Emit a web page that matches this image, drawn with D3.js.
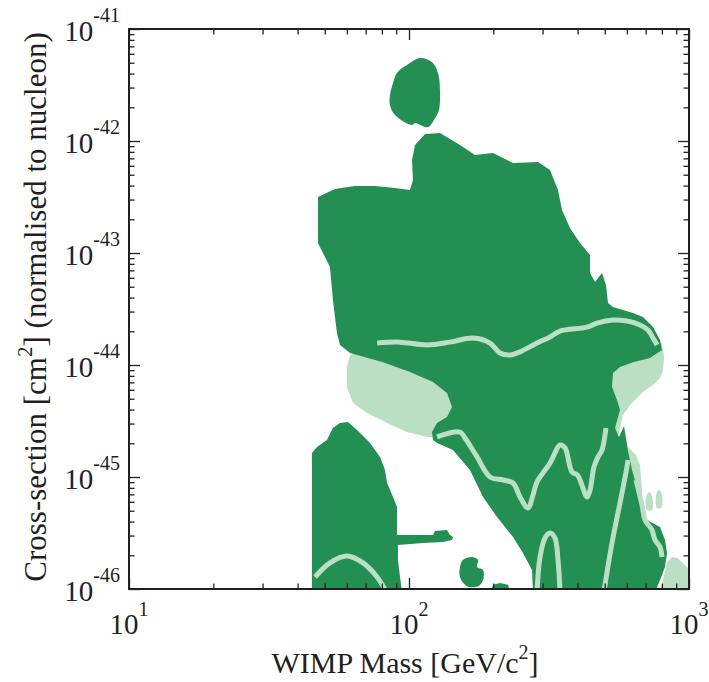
<!DOCTYPE html>
<html>
<head>
<meta charset="utf-8">
<script src="https://cdn.jsdelivr.net/npm/d3@7"></script>
<style>
  body { margin: 0; background: #fff; }
  text { font-family: "Liberation Serif", "Times New Roman", serif; fill: #231f20; }
</style>
</head>
<body>
<script>
// axis ticks
var massTicks = [10, 100, 1000];
var massExps = ["1", "2", "3"];
var sigmaTicks = [1e-46, 1e-45, 1e-44, 1e-43, 1e-42, 1e-41];
var sigmaExps = ["-46", "-45", "-44", "-43", "-42", "-41"];

// dark regions [mass GeV, sigma cm2]
var darkMain = [
  [47.3, 3.16e-43], [54.4, 3.72e-43], [64.1, 3.96e-43], [75.6, 3.96e-43], [89.1, 3.80e-43],
  [100.8, 3.65e-43], [103.3, 4.49e-43], [102.5, 6.76e-43], [105.1, 9.21e-43], [114.1, 1.155e-42],
  [129.0, 1.18e-42], [152.1, 9.21e-43], [172.1, 7.50e-43], [199.5, 7.81e-43], [235.2, 6.36e-43],
  [288.9, 6.49e-43], [318.9, 5.51e-43], [340.5, 3.65e-43], [351.9, 2.42e-43], [375.8, 1.67e-43],
  [408.1, 1.23e-43], [443.1, 9.60e-44], [443.1, 6.63e-44], [461.7, 5.51e-44], [489.0, 6.63e-44],
  [505.3, 5.18e-44], [513.7, 3.58e-44], [535.3, 3.30e-44], [631.0, 2.91e-44], [685.0, 2.68e-44],
  [743.9, 2.18e-44], [787.9, 1.67e-44], [801.1, 1.36e-44], [725.6, 1.155e-44], [631.0, 1.06e-44],
  [567.0, 9.60e-45], [535.3, 8.48e-45], [530.9, 6.36e-45], [553.3, 4.87e-45], [567.0, 3.96e-45],
  [544.2, 2.74e-45], [562.3, 2.28e-45], [586.0, 2.85e-45], [605.4, 1.74e-45], [625.6, 1.155e-45],
  [657.6, 7.65e-46], [685.0, 5.40e-46], [707.9, 4.13e-46], [787.9, 3.58e-46], [821.1, 2.74e-46],
  [834.7, 2.10e-46], [821.1, 1.57e-46], [787.9, 1.20e-46], [756.2, 0.95e-46], [277.3, 0.95e-46],
  [275.0, 1.48e-46], [255.3, 2.10e-46], [235.2, 2.91e-46], [206.2, 4.40e-46], [183.8, 6.63e-46],
  [165.1, 1.155e-45], [143.6, 1.74e-45], [125.9, 2.01e-45], [121.8, 2.14e-45], [120.8, 2.52e-45],
  [125.9, 3.03e-45], [136.7, 3.43e-45], [142.4, 4.22e-45], [136.7, 5.62e-45], [121.8, 7.05e-45],
  [100.8, 8.66e-45], [80.8, 1.06e-44], [61.6, 1.28e-44], [56.7, 1.51e-44], [55.3, 1.93e-44],
  [53.5, 3.80e-44], [52.2, 7.50e-44], [47.3, 1.23e-43]
];
var darkTop = [
  [90.6, 4.05e-42], [100.8, 4.97e-42], [109.5, 5.51e-42], [120.8, 5.07e-42], [126.9, 4.05e-42],
  [129.0, 2.85e-42], [128.0, 1.89e-42], [123.8, 1.60e-42], [116.9, 1.33e-42], [105.1, 1.45e-42],
  [102.5, 1.39e-42], [89.1, 1.71e-42], [85.5, 2.10e-42], [85.5, 2.57e-42], [87.7, 3.30e-42]
];
var darkLeft = [
  [45.0, 0.95e-46], [45.0, 1.64e-45], [46.9, 1.85e-45], [50.9, 2.14e-45], [53.5, 2.74e-45],
  [56.7, 3.03e-45], [60.5, 3.10e-45], [65.2, 2.63e-45], [72.6, 2.01e-45], [78.8, 1.51e-45],
  [82.1, 1.155e-45], [83.5, 8.84e-46], [87.7, 6.63e-46], [90.6, 5.40e-46], [90.6, 3.03e-46],
  [121.8, 3.03e-46], [123.8, 3.30e-46], [136.7, 3.36e-46], [140.1, 3.03e-46], [143.6, 2.91e-46],
  [142.4, 2.74e-46], [132.3, 2.63e-46], [112.2, 2.58e-46], [91.3, 2.47e-46], [91.3, 1.82e-46],
  [92.9, 1.28e-46], [94.4, 0.95e-46]
];
var darkBlob = [
  [152.1, 1.57e-46], [156.0, 1.82e-46], [167.9, 1.93e-46], [176.4, 1.82e-46], [175.0, 1.57e-46],
  [183.8, 1.48e-46], [183.8, 1.20e-46], [176.4, 1.06e-46], [161.2, 1.06e-46], [152.1, 1.28e-46]
];
var darkBump = [[196.3, 0.95e-46], [199.5, 1.09e-46], [211.3, 1.13e-46], [225.8, 1.09e-46], [229.5, 0.95e-46]];

// light regions
var lightLeft = [
  [61.6, 1.23e-44], [60.0, 9.60e-45], [60.0, 6.36e-45], [63.1, 4.58e-45], [70.8, 3.73e-45],
  [83.5, 3.03e-45], [98.4, 2.52e-45], [116.0, 2.28e-45], [123.8, 2.28e-45], [140.1, 2.97e-45],
  [152.1, 4.87e-45], [146.0, 7.35e-45], [109.5, 1.11e-44], [66.8, 1.31e-44]
];
var lightRight = [
  [801.1, 1.57e-44], [814.4, 1.18e-44], [807.7, 9.02e-45], [787.9, 7.65e-45], [743.9, 6.63e-45],
  [685.0, 5.74e-45], [615.5, 4.40e-45], [581.2, 3.58e-45], [567.0, 2.79e-45], [557.8, 2.28e-45],
  [539.8, 2.28e-45], [526.5, 2.74e-45], [513.7, 4.87e-45], [501.2, 7.35e-45], [567.0, 1.06e-44],
  [668.3, 1.51e-44]
];
var lightSpike = [
  [605.4, 1.85e-45], [646.6, 1.57e-45], [668.3, 1.28e-45], [679.4, 7.65e-46], [673.9, 5.63e-46],
  [641.2, 5.63e-46], [615.5, 1.42e-45]
];
var lightBlobA = [[702.1, 6.49e-46], [719.8, 7.35e-46], [737.9, 6.76e-46], [737.9, 5.07e-46], [707.9, 5.07e-46]];
var lightBlobB = [[762.5, 6.91e-46], [781.5, 7.65e-46], [801.1, 6.91e-46], [794.3, 5.29e-46], [768.8, 5.29e-46]];
var lightCorner = [
  [787.9, 0.95e-46], [807.7, 1.20e-46], [834.7, 1.74e-46], [869.9, 1.93e-46], [906.2, 1.89e-46],
  [944.1, 1.74e-46], [975.6, 1.60e-46], [1010, 1.48e-46], [1010, 0.95e-46]
];

// light contour lines
var lineUpper = [
  [76.9, 1.57e-44], [92.9, 1.60e-44], [116.0, 1.51e-44], [140.1, 1.60e-44], [169.3, 1.74e-44],
  [194.7, 1.57e-44], [211.3, 1.28e-44], [229.5, 1.23e-44], [249.1, 1.31e-44], [286.5, 1.57e-44],
  [318.9, 1.78e-44], [346.2, 2.01e-44], [432.3, 2.18e-44], [469.4, 2.37e-44], [535.3, 2.52e-44],
  [600.4, 2.47e-44], [668.3, 2.28e-44], [713.8, 2.05e-44], [743.9, 1.74e-44], [768.8, 1.51e-44]
];
var lineLower = [
  [125.9, 2.28e-45], [152.1, 2.52e-45], [158.5, 2.23e-45], [175.0, 1.51e-45], [194.7, 1.00e-45],
  [216.7, 9.40e-46], [235.2, 8.84e-46], [249.1, 6.63e-46], [266.1, 5.29e-46], [277.3, 6.91e-46],
  [286.5, 9.02e-46], [318.9, 1.33e-45], [346.2, 1.93e-45], [360.7, 1.82e-45], [382.1, 1.11e-45],
  [400.0, 1.04e-45], [432.3, 6.63e-46], [443.1, 7.65e-46], [457.9, 1.23e-45], [473.2, 1.51e-45],
  [489.0, 1.74e-45], [501.2, 2.37e-45], [505.3, 2.74e-45]
];
var lineArch = [[286.5, 0.95e-46], [293.8, 1.93e-46], [306.0, 2.85e-46], [318.9, 3.16e-46], [332.2, 2.85e-46], [340.5, 1.82e-46], [346.2, 0.95e-46]];
var lineDiag = [[497.1, 0.95e-46], [530.9, 2.58e-46], [567.0, 5.86e-46], [600.4, 1.23e-45], [605.4, 1.42e-45]];
var lineEdge = [[646.6, 9.40e-46], [679.4, 5.63e-46], [696.6, 4.13e-46], [737.9, 3.36e-46], [756.2, 2.74e-46], [787.9, 2.37e-46], [801.1, 1.93e-46]];
var lineLeft = [[46.2, 1.28e-46], [52.2, 1.71e-46], [60.0, 1.97e-46], [68.5, 1.71e-46], [76.9, 1.28e-46], [82.8, 0.95e-46]];

var dark = "#248f53", light = "#badfc2", ink = "#231f20";

var margin = {top: 29, right: 20, bottom: 93, left: 129};
var width = 560, height = 560;

var svg = d3.select("body").append("svg")
    .attr("width", 709).attr("height", 682);
var g = svg.append("g").attr("transform", "translate(" + margin.left + "," + margin.top + ")");

var x = d3.scaleLog().domain([10, 1000]).range([0, width]);
var y = d3.scaleLog().domain([1e-46, 1e-41]).range([height, 0]);

g.append("clipPath").attr("id", "plot")
  .append("rect").attr("width", width).attr("height", height);

var plot = g.append("g").attr("clip-path", "url(#plot)");

var shape = d3.line().x(d => x(d[0])).y(d => y(d[1])).curve(d3.curveLinearClosed);
var blob = d3.line().x(d => x(d[0])).y(d => y(d[1])).curve(d3.curveCatmullRomClosed.alpha(0.5));
var contour = d3.line().x(d => x(d[0])).y(d => y(d[1])).curve(d3.curveCatmullRom.alpha(0.5));

[lightLeft, lightRight, lightSpike, lightCorner].forEach(p =>
  plot.append("path").attr("d", shape(p)).attr("fill", light));
[lightBlobA, lightBlobB].forEach(p =>
  plot.append("path").attr("d", blob(p)).attr("fill", light));

[darkMain, darkLeft, darkBump].forEach(p =>
  plot.append("path").attr("d", shape(p)).attr("fill", dark));
[darkTop, darkBlob].forEach(p =>
  plot.append("path").attr("d", blob(p)).attr("fill", dark));

[lineUpper, lineLower, lineArch, lineDiag, lineEdge, lineLeft].forEach(p =>
  plot.append("path").attr("d", contour(p))
    .attr("fill", "none").attr("stroke", light)
    .attr("stroke-width", 5).attr("stroke-linejoin", "round"));

// minor tick values
var massMinor = [], sigmaMinor = [];
[10, 100].forEach(b => { for (var i = 2; i <= 9; i++) massMinor.push(b * i); });
sigmaTicks.slice(0, 5).forEach(b => { for (var i = 2; i <= 9; i++) sigmaMinor.push(b * i); });

function ticks(axisFn, scale, vals, size, tr) {
  var a = g.append("g").attr("transform", tr)
    .call(axisFn(scale).tickValues(vals).tickSize(size).tickFormat(""));
  a.select(".domain").remove();
  a.selectAll("line").attr("stroke", ink).attr("stroke-width", 1.3);
}
ticks(d3.axisBottom, x, massTicks, -11, "translate(0," + height + ")");
ticks(d3.axisBottom, x, massMinor, -5.5, "translate(0," + height + ")");
ticks(d3.axisTop, x, massTicks, -11, "translate(0,0)");
ticks(d3.axisTop, x, massMinor, -5.5, "translate(0,0)");
ticks(d3.axisLeft, y, sigmaTicks, -11, "translate(0,0)");
ticks(d3.axisLeft, y, sigmaMinor, -5.5, "translate(0,0)");
ticks(d3.axisRight, y, sigmaTicks, -11, "translate(" + width + ",0)");
ticks(d3.axisRight, y, sigmaMinor, -5.5, "translate(" + width + ",0)");

g.append("rect").attr("width", width).attr("height", height)
  .attr("fill", "none").attr("stroke", ink).attr("stroke-width", 2);

// tick labels
massTicks.forEach((v, i) => {
  var t = g.append("text").attr("x", x(v)).attr("y", height + 45)
    .attr("text-anchor", "middle").style("font-size", "29px");
  t.append("tspan").text("10");
  t.append("tspan").attr("dy", -18).style("font-size", "20px").text(massExps[i]);
});
sigmaTicks.forEach((v, i) => {
  var t = g.append("text").attr("x", -9).attr("y", y(v) + 12)
    .attr("text-anchor", "end").style("font-size", "29px");
  t.append("tspan").text("10");
  t.append("tspan").attr("dy", -19).style("font-size", "20px").text(sigmaExps[i]);
});

// axis titles
var xt = svg.append("text").attr("x", 405).attr("y", 673)
  .attr("text-anchor", "middle").style("font-size", "30px");
xt.append("tspan").text("WIMP Mass [GeV/c");
xt.append("tspan").attr("dy", -14).style("font-size", "20px").text("2");
xt.append("tspan").attr("dy", 14).text("]");

var yt = svg.append("text").attr("transform", "translate(46,307) rotate(-90)")
  .attr("text-anchor", "middle").style("font-size", "31px");
yt.append("tspan").text("Cross-section [cm");
yt.append("tspan").attr("dy", -14).style("font-size", "21px").text("2");
yt.append("tspan").attr("dy", 14).text("] (normalised to nucleon)");
</script>
</body>
</html>
